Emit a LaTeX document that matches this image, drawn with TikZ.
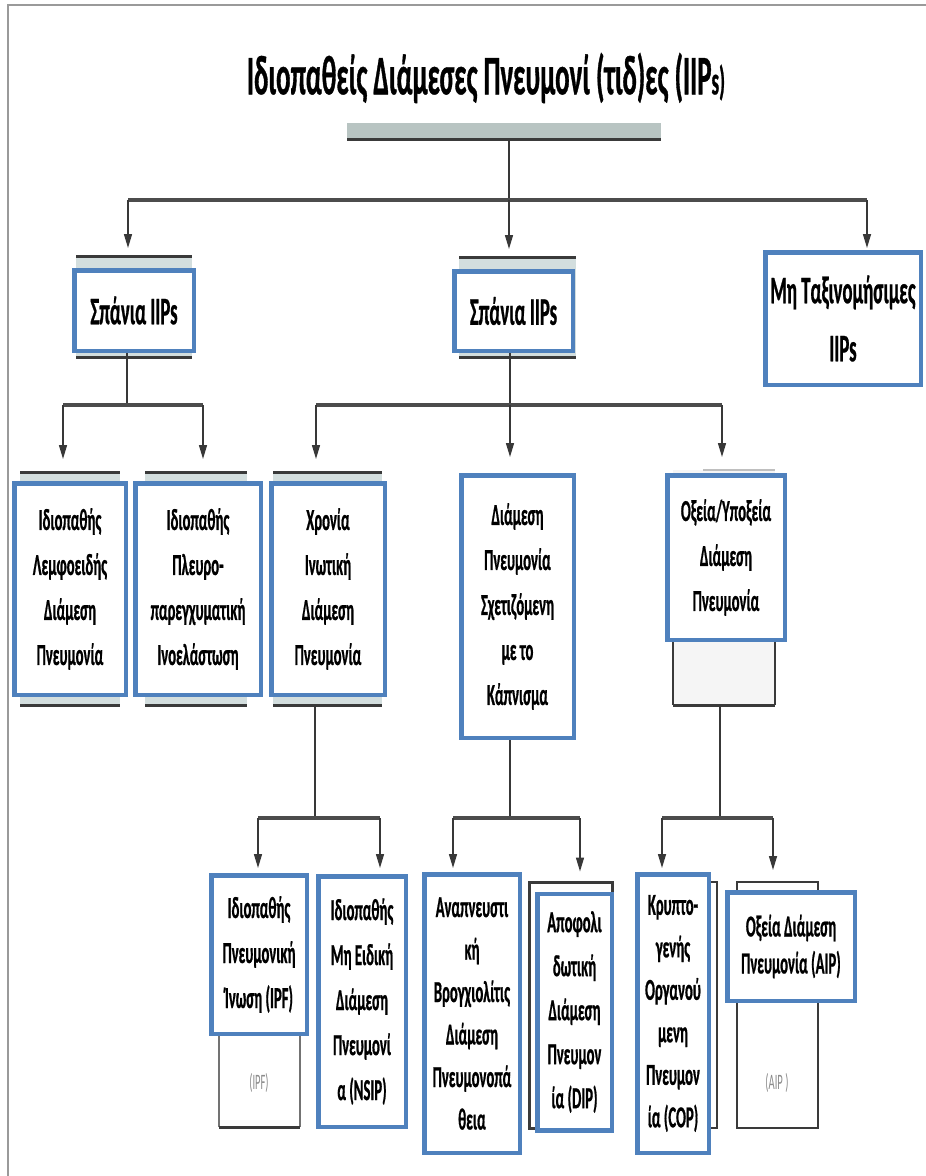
\documentclass[tikz,border=0pt]{standalone}
\usepackage{fontspec}
\setmainfont{Carlito}[FakeStretch=0.48,BoldFeatures={FakeBold=0.6}]
\usetikzlibrary{arrows.meta,calc}
\definecolor{boxblue}{HTML}{4F81BD}
\definecolor{bargray}{HTML}{B8C4C2}
\definecolor{shfill}{HTML}{D3DEDE}
\definecolor{darkln}{HTML}{3A3A3A}
\definecolor{framegray}{HTML}{9A9A9A}
\newcommand\shbox[4]{%
  \fill[shfill] (#1,#2) rectangle (#3,#4);
  \draw[darkln,line width=3pt] (#1,#2) -- (#3,#2);
  \draw[darkln,line width=3pt] (#1,#4) -- (#3,#4);}
\begin{document}
\begin{tikzpicture}[x=1pt,y=-1pt,
  bbox/.style={draw=boxblue,line width=4.5pt,fill=white,align=center,inner sep=0pt,
    font=\fontsize{30.5}{45}\selectfont\bfseries},
  bigtxt/.style={font=\fontsize{39}{58}\selectfont\bfseries},
  stem/.style={draw=black!78,line width=1.5pt},
  bus/.style={draw=black!70,line width=3.5pt},
  arr/.style={stem,-{Triangle[length=14pt,width=8pt]}},
  faded/.style={text=black!45,font=\fontsize{22}{22}\selectfont}]
\useasboundingbox (0,0) rectangle (926,1176);
% frame
\draw[framegray,line width=2.5pt] (926,5) -- (8,5) -- (8,1176);
% title
\node[font=\fontsize{56}{56}\selectfont\bfseries] (title) at (486,78)
  {Ιδιοπαθείς Διάμεσες Πνευμονί (τιδ)ες (IIP{\fontsize{40}{40}\selectfont s)}};
\node[fill=bargray,minimum width=314pt,minimum height=17pt,inner sep=0pt] (bar) at (504,131.5) {};
\draw[darkln,line width=3pt] (347,139) -- (661,139);
% ---------- connectors ----------
\coordinate (t0) at (128,200);
\coordinate (tm) at (509,200);
\coordinate (t1) at (867,200);
\coordinate (a0) at (63,405);
\coordinate (am) at (127,405);
\coordinate (a1) at (203,405);
\coordinate (b0) at (316,405);
\coordinate (bm) at (510,405);
\coordinate (b1) at (722,405);
\coordinate (c0) at (258,818);
\coordinate (cm) at (315,818);
\coordinate (c1) at (380,818);
\coordinate (d0) at (453,818);
\coordinate (dm) at (510,818);
\coordinate (d1) at (580,818);
\coordinate (e0) at (662,818);
\coordinate (em) at (720,818);
\coordinate (e1) at (773,818);

\draw[stem] (tm |- bar.south) -- (tm);
\draw[bus] (t0) -- (t1);

% ---------- shadows ----------
\shbox{76}{256}{192}{357}
\shbox{459}{257}{576}{357}
\shbox{20}{472}{120}{705}
\shbox{145}{472}{247}{705}
\shbox{273}{472}{382}{705}
\fill[black!4] (673,470) rectangle (775,705);
\draw[black!25,line width=2pt] (703,470) -- (775,470);
\draw[darkln,line width=1.5pt] (673,642) -- (673,705) (775,642) -- (775,705);
\draw[darkln,line width=3pt] (673,705) -- (775,705);
\fill[white] (219,1030) rectangle (300,1127);
\draw[black!55,line width=1.2pt] (219,1030) -- (219,1127) (300,1030) -- (300,1127);
\draw[darkln,line width=3pt] (219,1127) -- (300,1127);
\node[faded] (ipfghost) at (259,1083) {(IPF)};
\draw[darkln,line width=3pt,fill=white] (529,882) rectangle (612,1128);
\draw[darkln,line width=2.5pt,fill=white] (640,882) rectangle (717,1128);
\draw[darkln,line width=2.5pt,fill=white] (737,882) rectangle (818,1128);
\node[faded] (aipghost) at (777,1083) {(AIP )};

% ---------- boxes ----------
\node[bbox,bigtxt,minimum width=119.5pt,minimum height=80.5pt] (A) at (134,310.5) {Σπάνια IIPs};
\node[bbox,bigtxt,minimum width=118.5pt,minimum height=79.5pt] (B) at (513.5,311) {Σπάνια IIPs};
\node[bbox,bigtxt,minimum width=155.5pt,minimum height=132.5pt] (C) at (843,318.5) {Μη Ταξινομήσιμες\\IIPs};

\node[bbox,minimum width=111.5pt,minimum height=211.5pt] (n1) at (70,589) {Ιδιοπαθής\\Λεμφοειδής\\Διάμεση\\Πνευμονία};
\node[bbox,minimum width=125.5pt,minimum height=211.5pt] (n2) at (198,589) {Ιδιοπαθής\\Πλευρο-\\παρεγχυματική\\Ινοελάστωση};
\node[bbox,minimum width=113.5pt,minimum height=211.5pt] (n3) at (328,589) {Χρονία\\Ινωτική\\Διάμεση\\Πνευμονία};
\node[bbox,minimum width=112.5pt,minimum height=262.5pt] (n4) at (517.5,606.5) {Διάμεση\\Πνευμονία\\Σχετιζόμενη\\με το\\Κάπνισμα};
\node[bbox,minimum width=117.5pt,minimum height=164.5pt] (n5) at (726,557.5) {Οξεία/Υποξεία\\Διάμεση\\Πνευμονία};

\node[bbox,minimum width=95.5pt,minimum height=158.5pt] (ipf) at (259,954.5) {Ιδιοπαθής\\Πνευμονική\\Ίνωση (IPF)};
\node[bbox,minimum width=87.5pt,minimum height=250.5pt] (nsip) at (362,1001.5) {Ιδιοπαθής\\Μη Ειδική\\Διάμεση\\Πνευμονί\\α (NSIP)};
\node[bbox,minimum width=95.5pt,minimum height=278.5pt,font=\fontsize{30.5}{42.5}\selectfont\bfseries] (rb) at (472,1013.5) {Αναπνευστι\\κή\\Βρογχιολίτις\\Διάμεση\\Πνευμονοπά\\θεια};
\node[bbox,minimum width=74.5pt,minimum height=236.5pt,font=\fontsize{30.5}{44}\selectfont\bfseries] (dip) at (574.5,1012) {Αποφολι\\δωτική\\Διάμεση\\Πνευμον\\ία (DIP)};
\node[bbox,minimum width=71.5pt,minimum height=278.5pt,font=\fontsize{30.5}{42.5}\selectfont\bfseries] (cop) at (673,1013.5) {Κρυπτο-\\γενής\\Οργανού\\μενη\\Πνευμον\\ία (COP)};
\node[bbox,minimum width=127.5pt,minimum height=108.5pt,font=\fontsize{30.5}{37}\selectfont\bfseries] (aip) at (791,946.5) {Οξεία Διάμεση\\Πνευμονία (AIP)};

% ---------- arrows ----------
\draw[arr,shorten >=20pt] (t0) -- (t0 |- A.north);
\draw[arr,shorten >=20pt] (tm) -- (tm |- B.north);
\draw[arr,shorten >=2pt] (t1) -- (t1 |- C.north);

\draw[stem] (am |- A.south) -- (am);
\draw[bus] (a0) -- (a1);
\draw[arr,shorten >=22pt] (a0) -- (a0 |- n1.north);
\draw[arr,shorten >=22pt] (a1) -- (a1 |- n2.north);

\draw[stem] (bm |- B.south) -- (bm);
\draw[bus] (b0) -- (b1);
\draw[arr,shorten >=22pt] (b0) -- (b0 |- n3.north);
\draw[arr,shorten >=16pt] (bm) -- (bm |- n4.north);
\draw[arr,shorten >=16pt] (b1) -- (b1 |- n5.north);

\draw[stem] (cm |- n3.south) ++(0,8) -- (cm);
\draw[bus] (c0) -- (c1);
\draw[arr,shorten >=5pt] (c0) -- (c0 |- ipf.north);
\draw[arr,shorten >=6pt] (c1) -- (c1 |- nsip.north);

\draw[stem] (dm |- n4.south) -- (dm);
\draw[bus] (d0) -- (d1);
\draw[arr,shorten >=4pt] (d0) -- (d0 |- rb.north);
\draw[arr,shorten >=20pt] (d1) -- (d1 |- dip.north);

\draw[stem] (em |- n5.south) ++(0,63) -- (em);
\draw[bus] (e0) -- (e1);
\draw[arr,shorten >=4pt] (e0) -- (e0 |- cop.north);
\draw[arr,shorten >=20pt] (e1) -- (e1 |- aip.north);
\end{tikzpicture}
\end{document}
